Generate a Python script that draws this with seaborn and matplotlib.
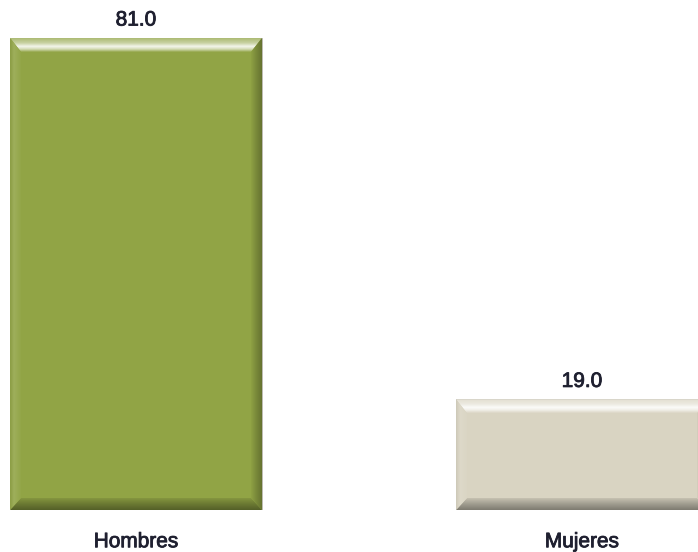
import numpy as np
import pandas as pd
import matplotlib
matplotlib.use("Agg")
import matplotlib.pyplot as plt
import matplotlib.patheffects as pe
from matplotlib.patches import Polygon
from matplotlib.colors import LinearSegmentedColormap, to_rgb
import seaborn as sns

categories = ["Hombres", "Mujeres"]
values = [81.0, 19.0]
bar_colors = ["#91A445", "#D9D4C2"]

sns.set_theme(style="white")
plt.rcParams["font.family"] = ["Liberation Sans", "DejaVu Sans"]
TEXT = "#1f2030"
HEAVY = [pe.withStroke(linewidth=0.6, foreground=TEXT)]

fig = plt.figure(figsize=(6.98, 5.52), dpi=100)
ax = fig.add_axes([0, 42 / 552, 1, 510 / 552])

df = pd.DataFrame({"sexo": categories, "pct": values})
sns.barplot(data=df, x="sexo", y="pct", hue="sexo", palette=bar_colors,
            width=0.565, saturation=1, legend=False, ax=ax,
            edgecolor="#bdbcb4", linewidth=0.7)

XLIM = (-0.305, 1.26)
YLIM = (0, 87.5)
ax.set_xlim(*XLIM)
ax.set_ylim(*YLIM)


def shade(c, f):
    """f > 0 mixes toward white, f < 0 toward black."""
    c = np.array(to_rgb(c))
    return tuple(c + (1 - c) * f) if f >= 0 else tuple(c * (1 + f))


def gradient(color, stops, n=64):
    cmap = LinearSegmentedColormap.from_list(
        "g", [(p, shade(color, f)) for p, f in stops])
    return cmap(np.linspace(0, 1, n))[:, :3]


def band(ax, pts, extent, colors, vertical, outer_high):
    # colors run outer -> inner
    cols = colors if not outer_high else colors[::-1]
    arr = cols[:, None, :] if vertical else cols[None, :, :]
    im = ax.imshow(arr, extent=extent, aspect="auto", origin="lower",
                   interpolation="bilinear", zorder=3)
    im.set_clip_path(Polygon(pts, closed=True, transform=ax.transData))


def bevel(ax, patch, color, bt=14, bb=12, bs=11):
    x0, y0 = patch.get_x(), patch.get_y()
    x1, y1 = x0 + patch.get_width(), y0 + patch.get_height()
    inv = ax.transData.inverted()
    p0 = ax.transData.transform((x0, y0))
    px = inv.transform(p0 + np.array([1, 0]))[0] - x0
    py = inv.transform(p0 + np.array([0, 1]))[1] - y0
    sx = bs * px
    tt, tb = bt * py, bb * py

    top = gradient(color, [(0, 0.25), (0.35, 0.5), (0.6, 0.9), (0.8, 0.6), (1, 0.05)])
    bottom = gradient(color, [(0, -0.42), (0.5, -0.25), (1, -0.06)])
    left = gradient(color, [(0, -0.05), (0.35, 0.12), (1, 0.02)])
    right = gradient(color, [(0, -0.30), (0.6, -0.14), (1, -0.02)])

    band(ax, [(x0, y1), (x1, y1), (x1 - sx, y1 - tt), (x0 + sx, y1 - tt)],
         (x0, x1, y1 - tt, y1), top, True, True)
    band(ax, [(x0, y0), (x1, y0), (x1 - sx, y0 + tb), (x0 + sx, y0 + tb)],
         (x0, x1, y0, y0 + tb), bottom, True, False)
    band(ax, [(x0, y0), (x0 + sx, y0 + tb), (x0 + sx, y1 - tt), (x0, y1)],
         (x0, x0 + sx, y0, y1), left, False, False)
    band(ax, [(x1, y0), (x1 - sx, y0 + tb), (x1 - sx, y1 - tt), (x1, y1)],
         (x1 - sx, x1, y0, y1), right, False, True)


for container, color in zip(ax.containers, bar_colors):
    for patch in container.patches:
        bevel(ax, patch, color)
    for t in ax.bar_label(container, fmt="%.1f", padding=6, fontsize=15,
                          color=TEXT):
        t.set_path_effects(HEAVY)

ax.set_xlim(*XLIM)
ax.set_ylim(*YLIM)
ax.set_xlabel("")
ax.set_ylabel("")
ax.set_yticks([])
ax.tick_params(axis="x", length=0, pad=16, labelsize=15, labelcolor=TEXT)
for lbl in ax.get_xticklabels():
    lbl.set_path_effects(HEAVY)
for s in ax.spines.values():
    s.set_visible(False)

fig.savefig("out.png", dpi=100)
